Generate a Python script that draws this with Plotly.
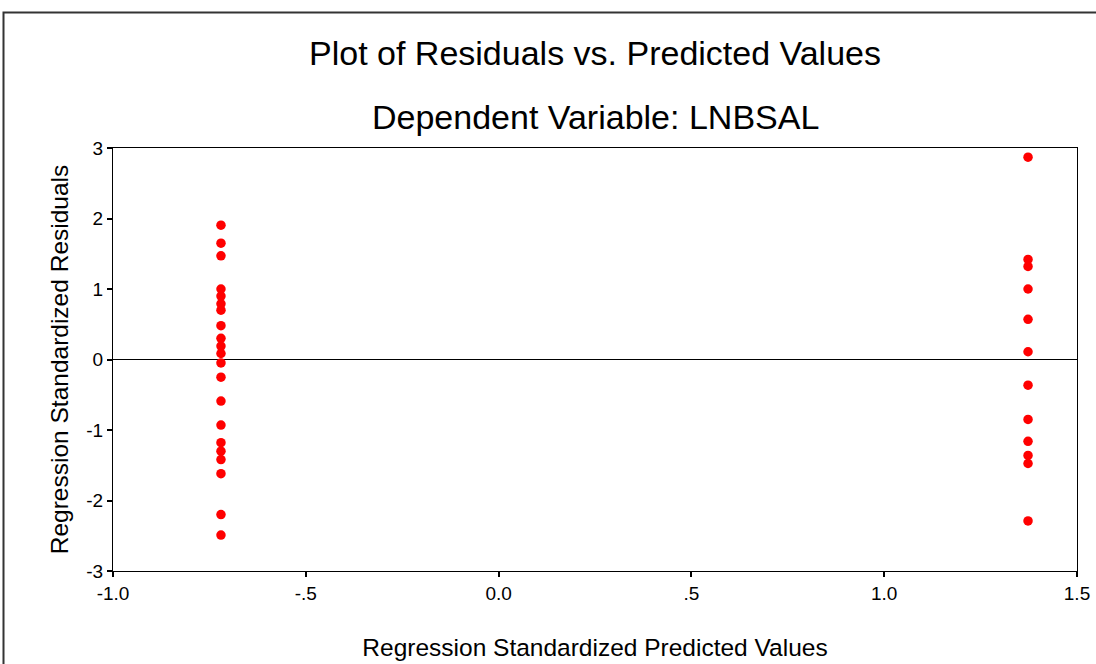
import plotly.graph_objects as go

# Predicted values (two groups) and residuals
left_pred = -0.72
right_pred = 1.373
left_resid = [1.905, 1.65, 1.47, 1.00, 0.90, 0.79, 0.70, 0.48, 0.30, 0.19, 0.085,
              -0.048, -0.25, -0.59, -0.93, -1.18, -1.30, -1.42, -1.62, -2.20, -2.49]
right_resid = [2.87, 1.42, 1.32, 1.00, 0.57, 0.11, -0.365, -0.85, -1.16, -1.36,
               -1.475, -2.29]

x_ticks = [-1.0, -0.5, 0.0, 0.5, 1.0, 1.5]
x_tick_labels = ["-1.0", "-.5", "0.0", ".5", "1.0", "1.5"]
y_ticks = [-3, -2, -1, 0, 1, 2, 3]
y_tick_labels = ["-3", "-2", "-1", "0", "1", "2", "3"]

xs = [left_pred] * len(left_resid) + [right_pred] * len(right_resid)
ys = left_resid + right_resid

FONT = "Liberation Sans, Arial, sans-serif"

fig = go.Figure()
fig.add_trace(go.Scatter(
    x=xs, y=ys, mode="markers",
    marker=dict(color="#ff0000", size=9.5, line=dict(width=0)),
    showlegend=False, hoverinfo="x+y",
))

fig.update_layout(
    width=1096, height=664,
    margin=dict(l=113, r=19, t=148, b=93, autoexpand=False),
    paper_bgcolor="white", plot_bgcolor="white",
    font=dict(family=FONT, color="black"),
    xaxis=dict(
        range=[-1.0, 1.5], tickvals=x_ticks, ticktext=x_tick_labels,
        automargin=False,
        showgrid=False, zeroline=False, showline=True, linecolor="black",
        linewidth=1, mirror=True, ticks="outside", ticklen=5, tickwidth=2,
        tickcolor="black", tickfont=dict(size=19, family=FONT),
        title=dict(text="Regression Standardized Predicted Values",
                   font=dict(size=24.5, family=FONT), standoff=36),
    ),
    yaxis=dict(
        range=[-3, 3], tickvals=y_ticks, ticktext=y_tick_labels,
        automargin=False,
        showgrid=False, zeroline=True, zerolinecolor="black", zerolinewidth=1,
        showline=True, linecolor="black", linewidth=1, mirror=True,
        ticks="outside", ticklen=5, tickwidth=2, tickcolor="black",
        tickfont=dict(size=19, family=FONT),
        title=dict(text="Regression Standardized Residuals",
                   font=dict(size=24.5, family=FONT), standoff=10),
    ),
    annotations=[
        dict(text="Plot of Residuals vs. Predicted Values", xref="paper", yref="paper",
             x=0.5, y=(571 - 53) / 423, xanchor="center", yanchor="middle",
             showarrow=False, font=dict(size=34, family=FONT)),
        dict(text="Dependent Variable: LNBSAL", xref="paper", yref="paper",
             x=0.5, y=(571 - 117) / 423, xanchor="center", yanchor="middle",
             showarrow=False, font=dict(size=34, family=FONT)),
    ],
    shapes=[
        dict(type="rect", xref="paper", yref="paper",
             x0=(3.5 - 113) / 964, x1=(1110 - 113) / 964,
             y0=(571 - 700) / 423, y1=(571 - 12.5) / 423,
             line=dict(color="#333333", width=2), layer="below"),
    ],
)

fig.write_html("out.html", post_script="document.body.style.margin='0';",
               config={"displayModeBar": False})
